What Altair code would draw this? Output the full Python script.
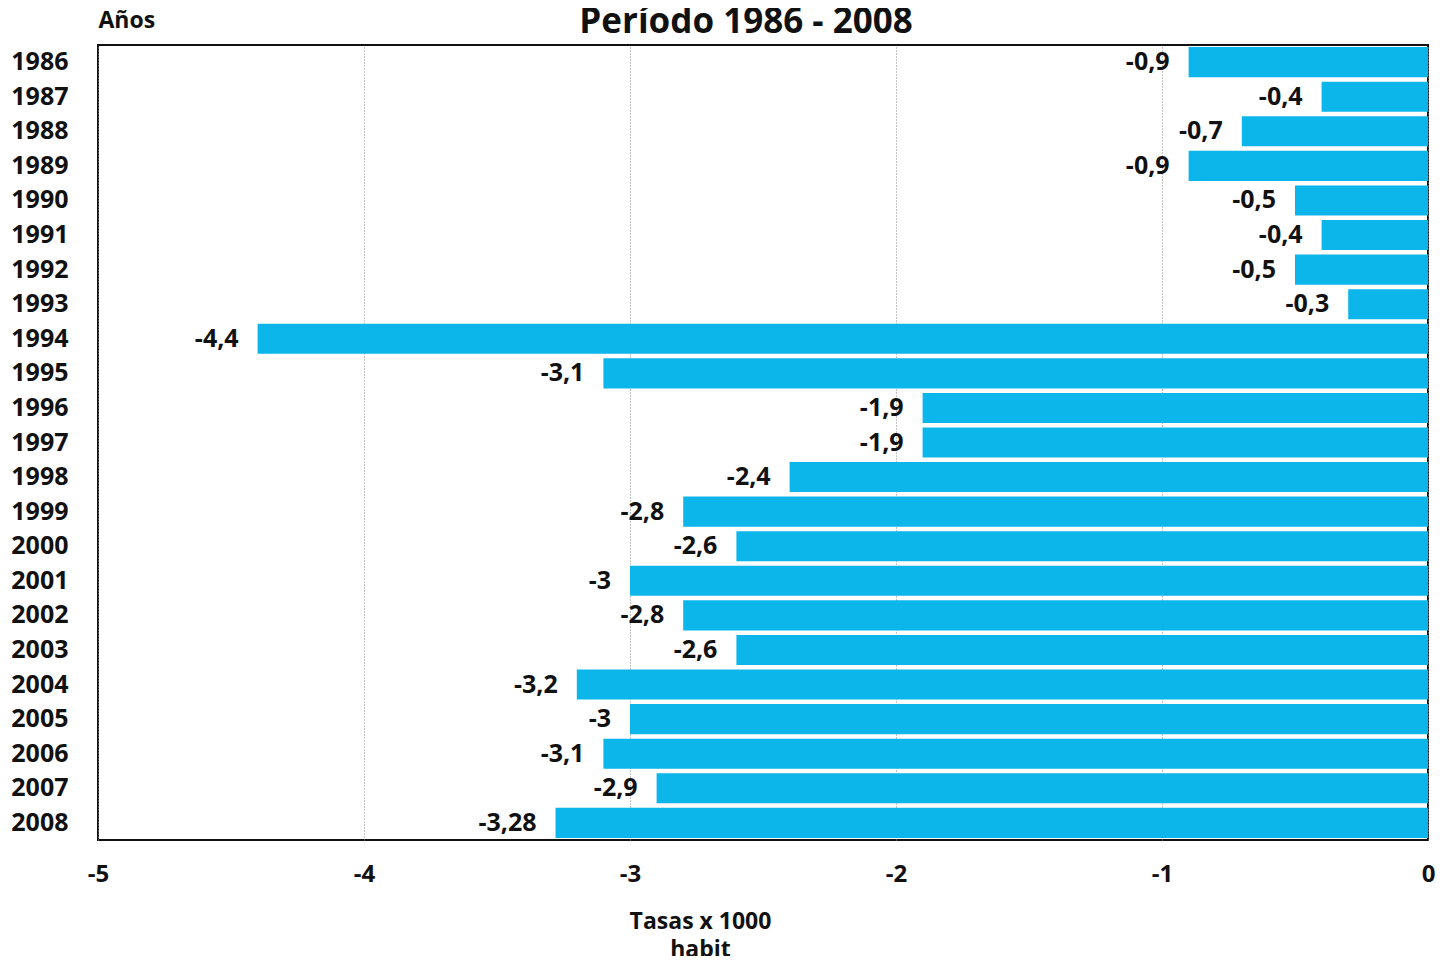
import altair as alt
import pandas as pd

years = [str(y) for y in range(1986, 2009)]
values = [-0.9, -0.4, -0.7, -0.9, -0.5, -0.4, -0.5, -0.3, -4.4, -3.1, -1.9, -1.9,
          -2.4, -2.8, -2.6, -3.0, -2.8, -2.6, -3.2, -3.0, -3.1, -2.9, -3.28]
ticks = [-5, -4, -3, -2, -1, 0]

def fmt(v):
    s = ("%g" % v)
    return s.replace(".", ",")

df = pd.DataFrame({"year": years, "value": values, "label": [fmt(v) for v in values]})

FONT = "Open Sans"
BLUE = "#0cb5ea"

base = alt.Chart(df)

y_enc = alt.Y("year:N", sort=None,
              scale=alt.Scale(paddingInner=0.13, paddingOuter=0.06),
              axis=alt.Axis(title="Años", titleAngle=0, titleAlign="left", titleBaseline="alphabetic",
                            titleX=0, titleY=-18, titleFontSize=23, titleFontWeight="bold",
                            titleFont=FONT, titleColor="#111",
                            labelFont=FONT, labelFontSize=25, labelFontWeight="bold",
                            labelColor="#111", labelPadding=30, ticks=False, domain=False,
                            grid=False, labelAlign="right"))

bars = base.mark_bar(color=BLUE).encode(
    x=alt.X("value:Q", scale=alt.Scale(domain=[-5, 0], nice=False),
            axis=alt.Axis(values=ticks, labelExpr="'' + datum.value", labelFlush=False,
                          title=["Tasas x 1000", "habit"], titleFont=FONT, titleFontSize=23,
                          titleFontWeight="bold", titleColor="#111", titleX=602, titleY=70,
                          titleLineHeight=28, titleBaseline="top",
                          labelFont=FONT, labelFontSize=24, labelFontWeight="bold",
                          labelColor="#111", labelPadding=22, ticks=False, domain=False,
                          grid=True, gridColor="#888", gridDash=[1, 2], gridWidth=1)),
    y=y_enc,
)

text = base.mark_text(align="right", baseline="middle", dx=-19, font=FONT, fontSize=25,
                      fontWeight="bold", color="#111").encode(
    x="value:Q", y=alt.Y("year:N", sort=None), text="label:N")

chart = alt.layer(bars, text).properties(
    width=1330, height=795,
    autosize=alt.AutoSizeParams(type="none"),
    padding={"left": 90, "top": 37, "right": 12, "bottom": 116},
    title=alt.Title("Período 1986 - 2008", font=FONT, fontSize=35, fontWeight="bold",
                    color="#111", anchor="middle", dx=-17, offset=-31),
).configure_view(stroke="#111", strokeWidth=2)

chart.save("out.html", embed_options={"renderer": "svg", "actions": False})
